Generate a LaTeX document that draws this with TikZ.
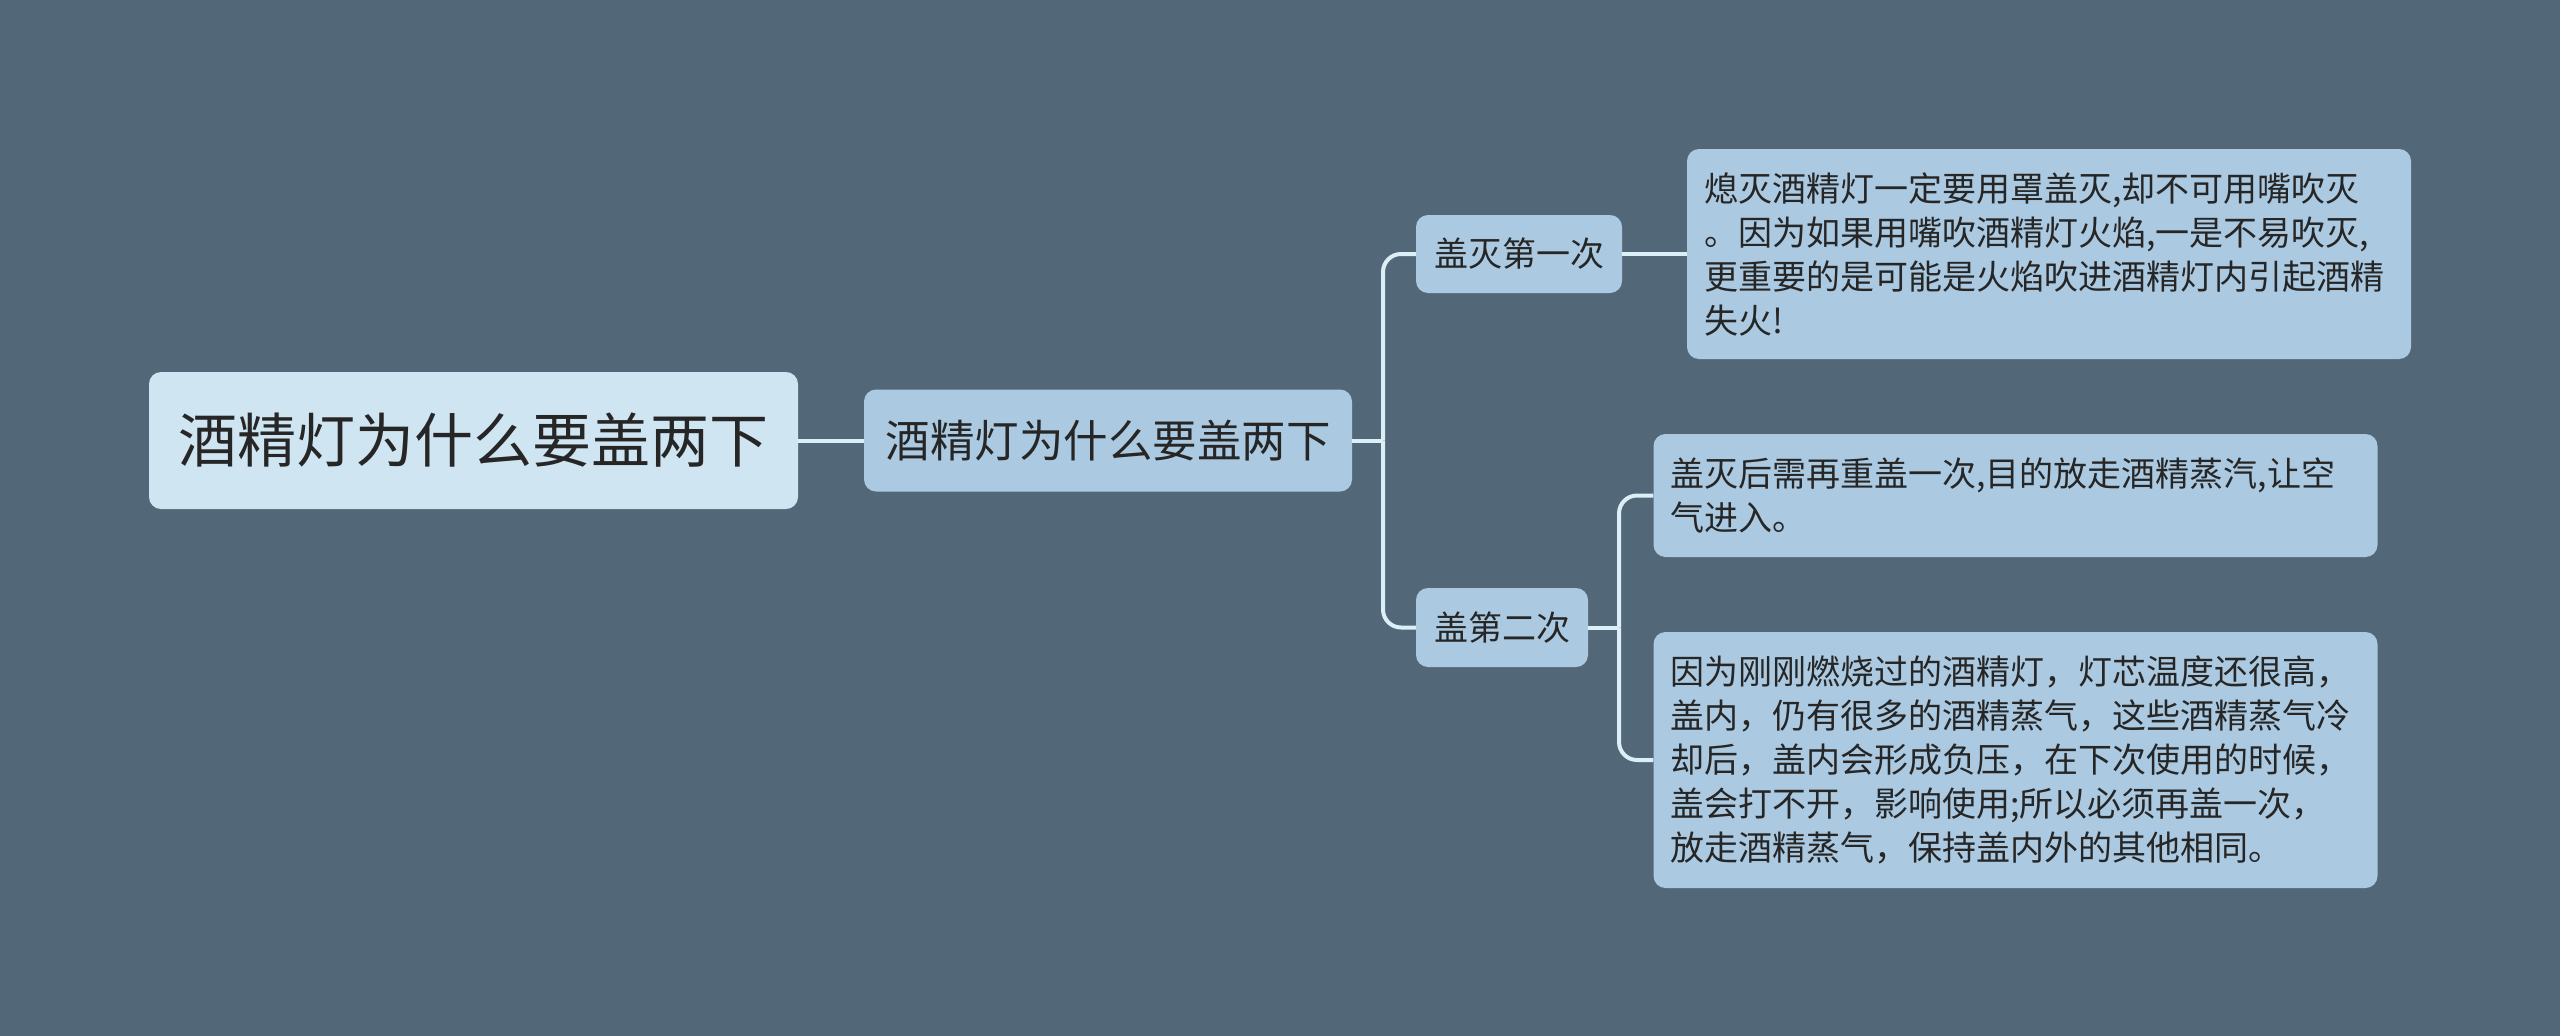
\documentclass[tikz,border=0pt]{standalone}
\usepackage{fontspec}
\setmainfont{Noto Sans CJK SC}
\usetikzlibrary{calc}
\definecolor{bg}{HTML}{526879}
\definecolor{rootfill}{HTML}{CFE5F2}
\definecolor{nodefill}{HTML}{ABCAE1}
\definecolor{linec}{HTML}{DCEEF6}
\definecolor{txt}{HTML}{262626}
\begin{document}
\begin{tikzpicture}[x=1pt,y=-1pt,
  box/.style={fill=nodefill, rounded corners=12pt, inner sep=0pt, text=txt, font=\fontsize{34}{44}\selectfont},
  leaf/.style={box, text width=690pt, align=left, inner xsep=17pt, inner ysep=0pt},
  conn/.style={draw=linec, line width=4pt}]
\fill[bg] (0,0) rectangle (2560,1036);
\useasboundingbox (0,0) rectangle (2560,1036);

\node[box, fill=rootfill, minimum width=649pt, minimum height=137pt, font=\fontsize{59}{70}\selectfont] (root) at (473.5,440.5) {酒精灯为什么要盖两下};
\node[box, minimum width=488pt, minimum height=102pt, font=\fontsize{44.5}{54}\selectfont] (mid) at (1108,440.5) {酒精灯为什么要盖两下};
\node[box, minimum width=206pt, minimum height=78pt] (c1) at (1519,254) {盖灭第一次};
\node[box, minimum width=172pt, minimum height=79pt] (c2) at (1502,627.5) {盖第二次};

\node[leaf, minimum height=210pt] (t1) at (2049,254) {熄灭酒精灯一定要用罩盖灭,却不可用嘴吹灭\\。因为如果用嘴吹酒精灯火焰,一是不易吹灭,\\更重要的是可能是火焰吹进酒精灯内引起酒精\\失火!};
\node[leaf, minimum height=123pt] (t2) at (2015.5,495.5) {盖灭后需再重盖一次,目的放走酒精蒸汽,让空\\气进入。};
\node[leaf, minimum height=256pt] (t3) at (2015.5,760) {因为刚刚燃烧过的酒精灯，灯芯温度还很高，\\盖内，仍有很多的酒精蒸气，这些酒精蒸气冷\\却后，盖内会形成负压，在下次使用的时候，\\盖会打不开，影响使用;所以必须再盖一次，\\放走酒精蒸气，保持盖内外的其他相同。};

\coordinate (s1) at (1383,440.5);
\coordinate (s2) at (1619,627.5);
\draw[conn] (root.east) -- (mid.west);
\draw[conn] (mid.east) -- (s1);
\draw[conn, rounded corners=18pt] (s1) |- (c1.west);
\draw[conn, rounded corners=18pt] (s1) |- (c2.west);
\draw[conn] (c1.east) -- (t1.west);
\draw[conn] (c2.east) -- (s2);
\draw[conn, rounded corners=18pt] (s2) |- (t2.west);
\draw[conn, rounded corners=18pt] (s2) |- (t3.west);
\end{tikzpicture}
\end{document}
